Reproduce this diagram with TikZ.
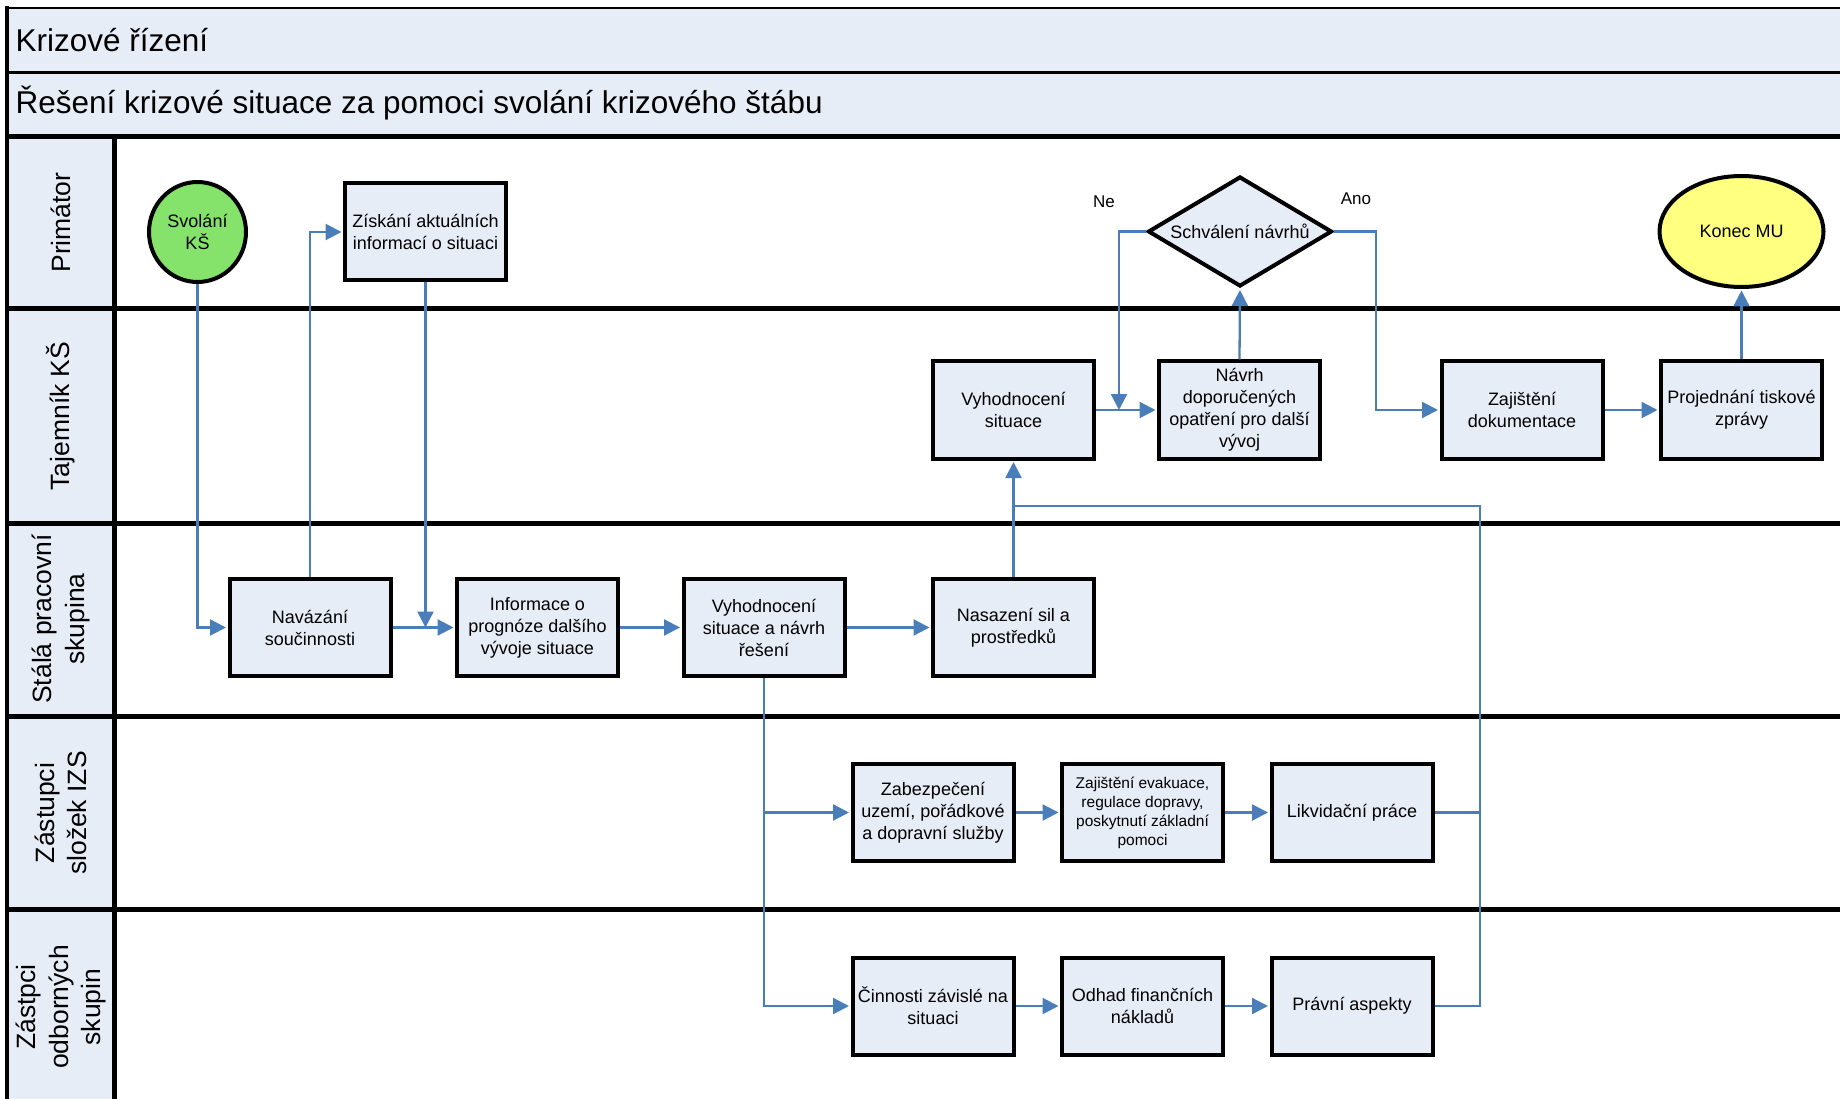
\documentclass[tikz,border=0pt]{standalone}
\usepackage{fontspec}
\setmainfont{Liberation Sans}
\usetikzlibrary{arrows.meta,shapes.geometric,calc}
\definecolor{lblue}{HTML}{E7EDF7}
\definecolor{lnblue}{HTML}{4A7EBB}
\definecolor{sgreen}{HTML}{85E36B}
\definecolor{eyellow}{HTML}{FFFF80}
\begin{document}
\begin{tikzpicture}[x=1pt,y=-1pt,
  proc/.style={draw=black, line width=4pt, fill=lblue, rectangle, minimum width=161pt, minimum height=97pt, inner sep=1pt, align=center, font=\fontsize{18}{22}\selectfont},
  smallproc/.style={proc, font=\fontsize{15.5}{19}\selectfont},
  tip/.style={-{Triangle[length=16pt,width=16pt]}},
  flow/.style={draw=lnblue, line width=2.3pt, tip, shorten >=1.5pt},
  flowline/.style={draw=lnblue, line width=2.3pt, tip},
  link/.style={draw=lnblue, line width=2.3pt},
  lanetxt/.style={rotate=90, align=center, font=\fontsize{26.5}{32.5}\selectfont},
  lanesep/.style={line width=5pt, black},
  lbl/.style={font=\fontsize{17}{20}\selectfont}
]
\useasboundingbox (0,0) rectangle (1840,1099);
\clip (0,0) rectangle (1840,1099);
% backgrounds
\fill[white] (0,0) rectangle (1840,1099);
\fill[lblue] (7,8) rectangle (1850,136);
\fill[lblue] (7,136) rectangle (114,1110);
% frame lines
\draw[line width=2pt] (7,8) -- (1850,8);
\draw[line width=3pt] (7,73) -- (1850,73);
\draw[lanesep] (7,136.5) -- (1850,136.5);
\draw[lanesep] (7,309) -- (1850,309);
\draw[lanesep] (7,523) -- (1850,523);
\draw[lanesep] (7,716) -- (1850,716);
\draw[lanesep] (7,909.5) -- (1850,909.5);
\draw[line width=4pt] (7,6) -- (7,1110);
\draw[line width=5pt] (114,136) -- (114,1110);
% titles
\node[anchor=west, font=\fontsize{31.5}{36}\selectfont] (title) at (12,40) {Krizové řízení};
\node[anchor=west, font=\fontsize{31.5}{36}\selectfont] (subtitle) at (12,103) {Řešení krizové situace za pomoci svolání krizového štábu};
% lane labels
\node[lanetxt] (l1) at (61,222.5) {Primátor};
\node[lanetxt] (l2) at (61,416) {Tajemník KŠ};
\node[lanetxt] (l3) at (61,619) {Stálá pracovní\\skupina};
\node[lanetxt] (l4) at (61,813) {Zástupci\\složek IZS};
\node[lanetxt] (l5) at (61,1007) {Zástpci\\odborných\\skupin};
% Primator lane
\node[ellipse, draw=black, line width=4pt, fill=sgreen, minimum width=97pt, minimum height=100pt, inner sep=0pt, align=center, font=\fontsize{18}{22}\selectfont] (svol) at (197.5,232) {Svolání\\KŠ};
\node[proc] (zisk) at (425.5,232) {Získání aktuálních\\informací o situaci};
\node[diamond, aspect=1.65, draw=black, line width=4pt, fill=lblue, minimum width=184pt, minimum height=110pt, inner sep=0pt, font=\fontsize{18}{22}\selectfont] (schv) at (1240,231.5) {Schválení návrhů};
\node[ellipse, draw=black, line width=4pt, fill=eyellow, minimum width=164pt, minimum height=111pt, inner sep=0pt, font=\fontsize{18}{22}\selectfont] (konec) at (1741.5,231.5) {Konec MU};
\node[lbl] (ne) at (1104,202) {Ne};
\node[lbl] (ano) at (1356,199) {Ano};
% Tajemnik lane
\node[proc] (vyh) at (1013.5,410) {Vyhodnocení\\situace};
\node[proc] (navrh) at (1239.5,410) {Návrh\\doporučených\\opatření pro další\\vývoj};
\node[proc] (zajd) at (1522,410) {Zajištění\\dokumentace};
\node[proc] (proj) at (1741.5,410) {Projednání tiskové\\zprávy};
% Stala lane
\node[proc] (nav) at (310,627.5) {Navázání\\součinnosti};
\node[proc] (info) at (537.5,627.5) {Informace o\\prognóze dalšího\\vývoje situace};
\node[proc] (vyhn) at (764,627.5) {Vyhodnocení\\situace a návrh\\řešení};
\node[proc] (nas) at (1013.5,627.5) {Nasazení sil a\\prostředků};
% IZS lane
\node[proc] (zab) at (933,812.5) {Zabezpečení\\uzemí, pořádkové\\a dopravní služby};
\node[smallproc] (zaj) at (1142.5,812.5) {Zajištění evakuace,\\regulace dopravy,\\poskytnutí základní\\pomoci};
\node[proc] (lik) at (1352,812.5) {Likvidační práce};
% odborne lane
\node[proc] (cin) at (933,1006) {Činnosti závislé na\\situaci};
\node[proc] (odh) at (1142.5,1006) {Odhad finančních\\nákladů};
\node[proc] (prav) at (1352,1006) {Právní aspekty};
% helper coordinates
\coordinate (col) at (1480,506);
\coordinate (netop) at (1119,231.5);
\coordinate (anotop) at (1376,231.5);
% connectors
\draw[flow] (svol.south) |- (nav.west);
\draw[flow] (nav.north) |- (zisk.west);
\draw[flowline] (zisk.south) -- (zisk.south |- nav.east);
\draw[flow] (nav.east) -- (info.west);
\draw[flow] (info.east) -- (vyhn.west);
\draw[flow] (vyhn.east) -- (nas.west);
\draw[flow] (vyhn.south) |- (zab.west);
\draw[flow] (vyhn.south) |- (cin.west);
\draw[flow] (zab.east) -- (zaj.west);
\draw[flow] (zaj.east) -- (lik.west);
\draw[flow] (cin.east) -- (odh.west);
\draw[flow] (odh.east) -- (prav.west);
\draw[link] (lik.east) -- (lik.east -| col);
\draw[link] (prav.east) -| (col) -- (col -| nas.north);
\draw[flow] (nas.north) -- (vyh.south);
\draw[flow] (vyh.east) -- (navrh.west);
\draw[flow] (navrh.north) -- (schv.south);
\draw[flowline] (schv.west) -- (netop) -- (netop |- vyh.east);
\draw[flow] (schv.east) -- (anotop) |- (zajd.west);
\draw[flow] (zajd.east) -- (proj.west);
\draw[flow] (proj.north) -- (konec.south);
\end{tikzpicture}
\end{document}
